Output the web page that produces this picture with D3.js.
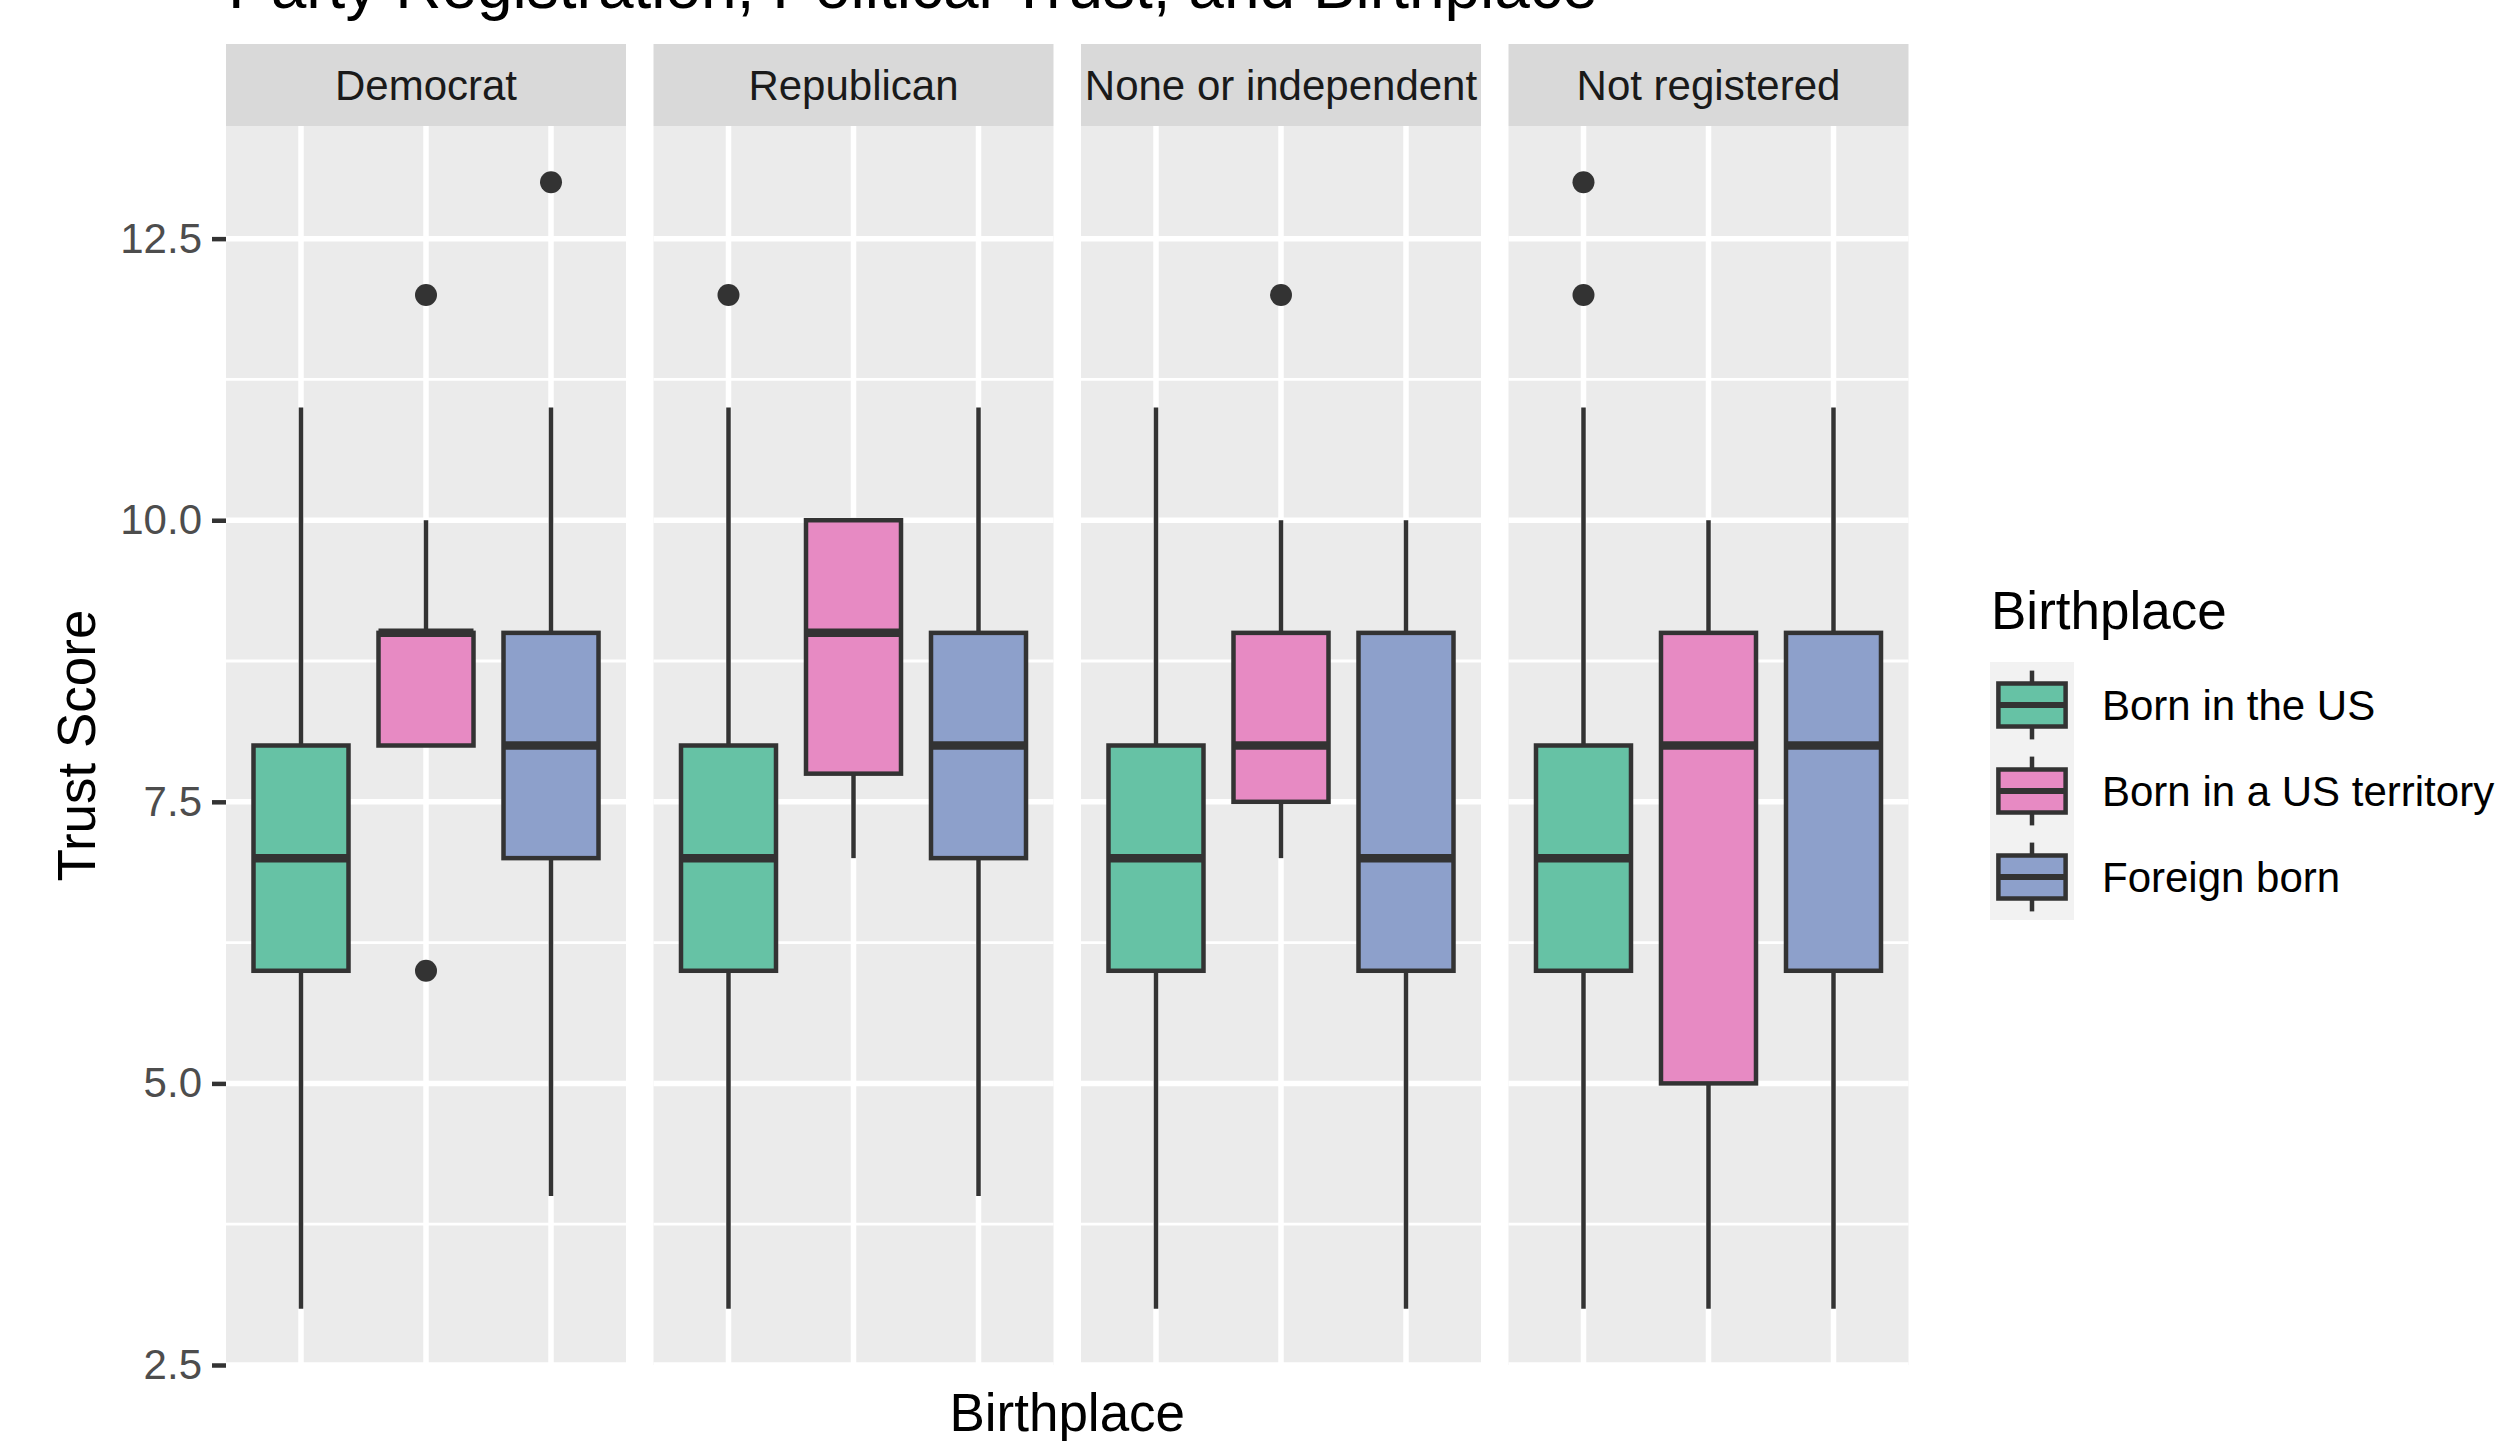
<!DOCTYPE html>
<html>
<head>
<meta charset="utf-8">
<script src="https://cdn.jsdelivr.net/npm/d3@7"></script>
<style>
  html, body { margin: 0; padding: 0; background: #fff; }
  svg { display: block; font-family: "Liberation Sans", Arial, sans-serif; }
</style>
</head>
<body>
<div id="chart"></div>
<script>
// Facets and groups
const parties = ["Democrat", "Republican", "None or independent", "Not registered"];
const birthplaces = ["Born in the US", "Born in a US territory", "Foreign born"];
const fillColors = ["#66C2A5", "#E78AC3", "#8DA0CB"];

// Box statistics, one row per party, one entry per birthplace
const whiskerLow  = [[3, 8, 4], [3, 7, 4], [3, 7, 3], [3, 3, 3]];
const lowerHinge  = [[6, 8, 7], [6, 7.75, 7], [6, 7.5, 6], [6, 5, 6]];
const medians     = [[7, 9, 8], [7, 9, 8], [7, 8, 7], [7, 8, 8]];
const upperHinge  = [[8, 9, 9], [8, 10, 9], [8, 9, 9], [8, 9, 9]];
const whiskerHigh = [[11, 10, 11], [11, 10, 11], [11, 10, 10], [11, 10, 11]];
const outliers    = [[[], [12, 6], [13]], [[12], [], []], [[], [12], []], [[12, 13], [], []]];

// Axis
const yTicks = [2.5, 5, 7.5, 10, 12.5];
const yMinor = [3.75, 6.25, 8.75, 11.25];

const chartTitle = "Party Registration, Political Trust, and Birthplace";
const xTitle = "Birthplace";
const yTitle = "Trust Score";
const legendTitle = "Birthplace";

function drawChart() {
    const width = 2498, height = 1441;
    const panelTop = 126, panelBottom = 1365;
    const stripTop = 44;
    const ink = '#333333';

    const svg = d3.select('#chart').append('svg')
        .attr('width', width)
        .attr('height', height);

    svg.append('rect').attr('width', width).attr('height', height).attr('fill', '#fff');

    const y = d3.scaleLinear().domain([2.5, 13.5]).range([panelBottom, panelTop]);

    const facet = d3.scaleBand()
        .domain(parties)
        .range([226, 1908.5])
        .paddingInner(0.0643)
        .paddingOuter(0);

    const x = d3.scalePoint()
        .domain(birthplaces)
        .range([0, facet.bandwidth()])
        .padding(0.6);

    const boxWidth = x.step() * 0.76;

    // Title (cropped at the top like the reference)
    svg.append('text')
        .attr('x', 228)
        .attr('y', 8)
        .attr('font-size', 64)
        .attr('fill', '#000')
        .text(chartTitle);

    parties.forEach((party, p) => {
        const g = svg.append('g').attr('transform', `translate(${facet(party)},0)`);
        const w = facet.bandwidth();

        // strip
        g.append('rect')
            .attr('x', 0).attr('y', stripTop)
            .attr('width', w).attr('height', panelTop - stripTop)
            .attr('fill', '#D9D9D9');
        g.append('text')
            .attr('x', w / 2)
            .attr('y', (stripTop + panelTop) / 2)
            .attr('dy', '0.35em')
            .attr('text-anchor', 'middle')
            .attr('font-size', 42)
            .attr('fill', '#1A1A1A')
            .text(party);

        // panel background
        g.append('rect')
            .attr('x', 0).attr('y', panelTop)
            .attr('width', w).attr('height', panelBottom - panelTop)
            .attr('fill', '#EBEBEB');

        // grid
        g.selectAll('.minor').data(yMinor).enter().append('line')
            .attr('x1', 0).attr('x2', w)
            .attr('y1', d => y(d)).attr('y2', d => y(d))
            .attr('stroke', '#fff').attr('stroke-width', 2.8);
        g.selectAll('.major').data(yTicks).enter().append('line')
            .attr('x1', 0).attr('x2', w)
            .attr('y1', d => y(d)).attr('y2', d => y(d))
            .attr('stroke', '#fff').attr('stroke-width', 5.5);
        g.selectAll('.vmajor').data(birthplaces).enter().append('line')
            .attr('x1', d => x(d)).attr('x2', d => x(d))
            .attr('y1', panelTop).attr('y2', panelBottom)
            .attr('stroke', '#fff').attr('stroke-width', 5.5);

        birthplaces.forEach((bp, b) => {
            const cx = x(bp);
            const box = g.append('g');

            // outliers
            box.selectAll('circle').data(outliers[p][b]).enter().append('circle')
                .attr('cx', cx)
                .attr('cy', d => y(d))
                .attr('r', 11)
                .attr('fill', ink);

            // whiskers
            box.append('line')
                .attr('x1', cx).attr('x2', cx)
                .attr('y1', y(upperHinge[p][b])).attr('y2', y(whiskerHigh[p][b]))
                .attr('stroke', ink).attr('stroke-width', 4.5);
            box.append('line')
                .attr('x1', cx).attr('x2', cx)
                .attr('y1', y(lowerHinge[p][b])).attr('y2', y(whiskerLow[p][b]))
                .attr('stroke', ink).attr('stroke-width', 4.5);

            // box
            box.append('rect')
                .attr('x', cx - boxWidth / 2)
                .attr('y', y(upperHinge[p][b]))
                .attr('width', boxWidth)
                .attr('height', y(lowerHinge[p][b]) - y(upperHinge[p][b]))
                .attr('fill', fillColors[b])
                .attr('stroke', ink)
                .attr('stroke-width', 4.5);

            // median
            box.append('line')
                .attr('x1', cx - boxWidth / 2).attr('x2', cx + boxWidth / 2)
                .attr('y1', y(medians[p][b])).attr('y2', y(medians[p][b]))
                .attr('stroke', ink).attr('stroke-width', 8.5);
        });
    });

    // y axis
    const yAxis = svg.append('g')
        .attr('transform', `translate(${facet(parties[0])},0)`)
        .call(d3.axisLeft(y)
            .tickValues(yTicks)
            .tickFormat(d3.format('.1f'))
            .tickSize(14)
            .tickPadding(10)
            .tickSizeOuter(0));
    yAxis.select('.domain').remove();
    yAxis.selectAll('.tick line').attr('stroke', ink).attr('stroke-width', 4.5);
    yAxis.selectAll('.tick text')
        .attr('font-size', 42)
        .attr('font-family', '"Liberation Sans", Arial, sans-serif')
        .attr('fill', '#4D4D4D');

    // axis titles
    svg.append('text')
        .attr('x', (facet.range()[0] + facet.range()[1]) / 2)
        .attr('y', 1431)
        .attr('text-anchor', 'middle')
        .attr('font-size', 53)
        .attr('fill', '#000')
        .text(xTitle);

    svg.append('text')
        .attr('transform', `translate(95,${(panelTop + panelBottom) / 2}) rotate(-90)`)
        .attr('text-anchor', 'middle')
        .attr('font-size', 53)
        .attr('fill', '#000')
        .text(yTitle);

    // legend
    const legend = svg.append('g').attr('transform', 'translate(1990,0)');
    legend.append('text')
        .attr('x', 1)
        .attr('y', 629)
        .attr('font-size', 53)
        .attr('fill', '#000')
        .text(legendTitle);

    const keyW = 84, keyH = 86, keyTop = 662;
    const key = legend.selectAll('.key').data(birthplaces).enter().append('g')
        .attr('transform', (d, i) => `translate(0,${keyTop + i * keyH})`);

    key.append('rect')
        .attr('width', keyW).attr('height', keyH)
        .attr('fill', '#F2F2F2');
    key.append('line')
        .attr('x1', keyW / 2).attr('x2', keyW / 2)
        .attr('y1', keyH * 0.1).attr('y2', keyH * 0.9)
        .attr('stroke', ink).attr('stroke-width', 4.5);
    key.append('rect')
        .attr('x', keyW * 0.1).attr('y', keyH * 0.25)
        .attr('width', keyW * 0.8).attr('height', keyH * 0.5)
        .attr('fill', (d, i) => fillColors[i])
        .attr('stroke', ink).attr('stroke-width', 4.5);
    key.append('line')
        .attr('x1', keyW * 0.1).attr('x2', keyW * 0.9)
        .attr('y1', keyH / 2).attr('y2', keyH / 2)
        .attr('stroke', ink).attr('stroke-width', 6);
    key.append('text')
        .attr('x', 112)
        .attr('y', keyH / 2)
        .attr('dy', '0.35em')
        .attr('font-size', 42)
        .attr('fill', '#000')
        .text(d => d);
}

document.addEventListener('DOMContentLoaded', drawChart);
</script>
</body>
</html>
